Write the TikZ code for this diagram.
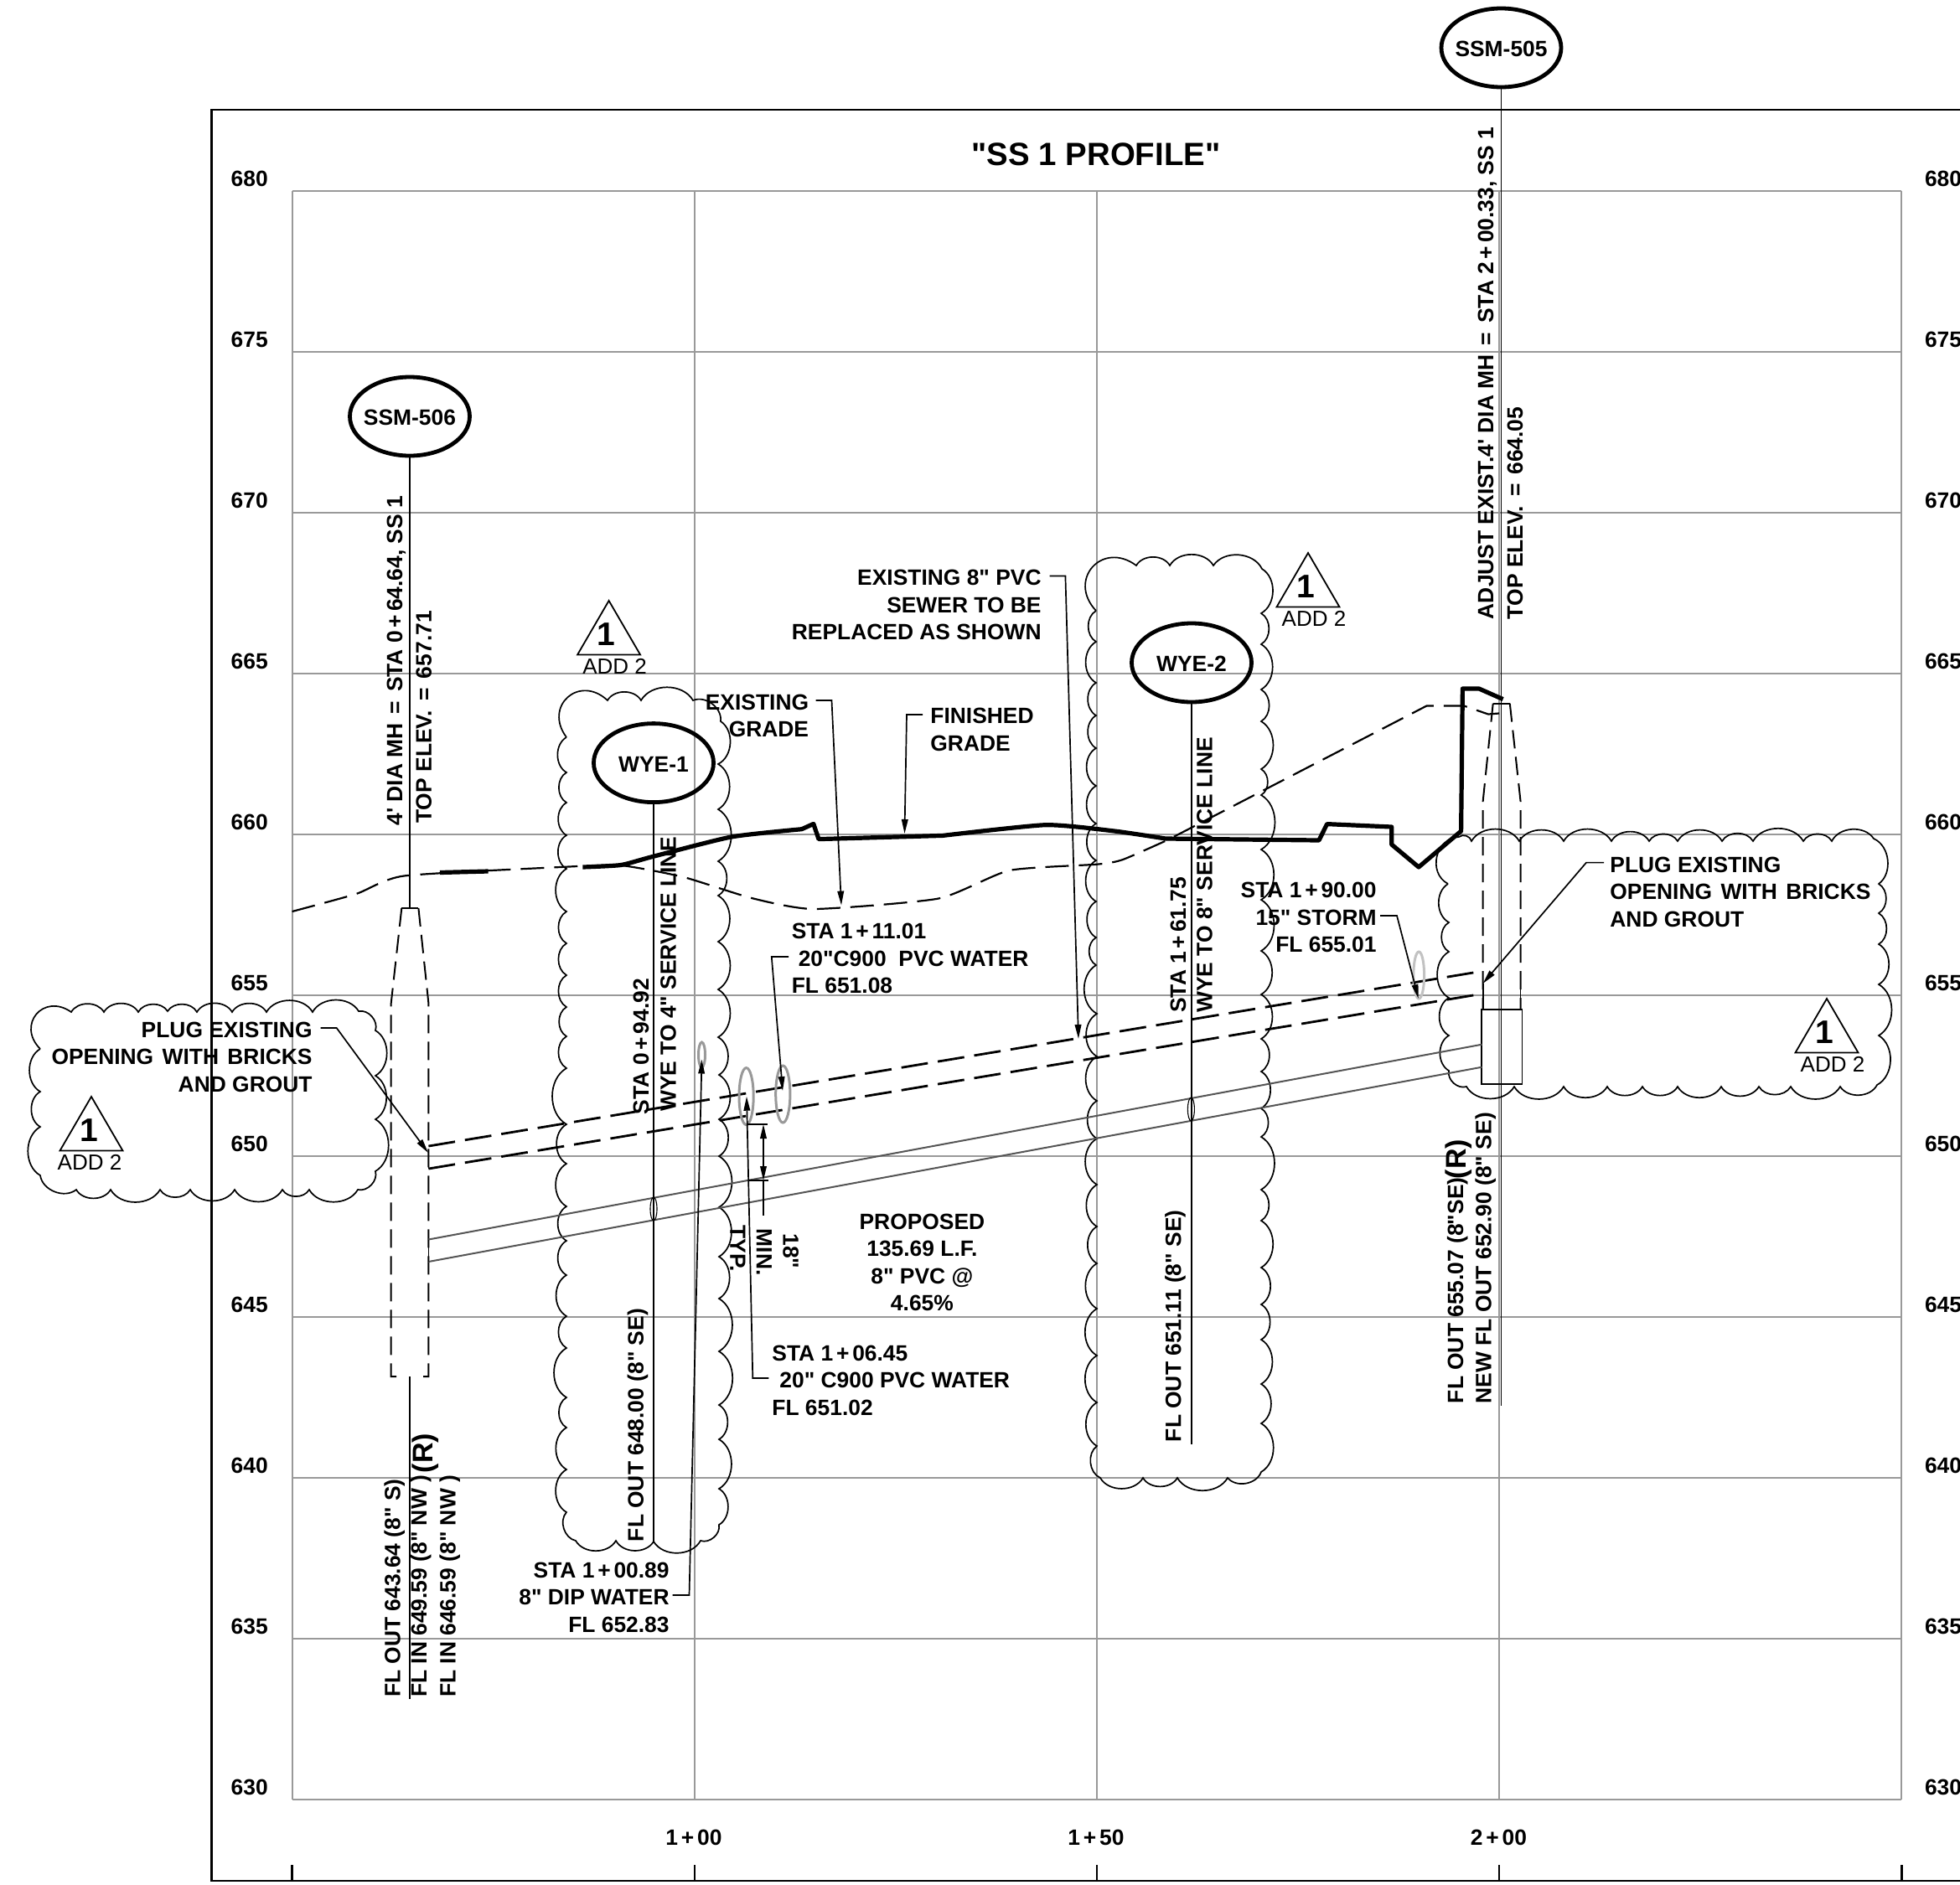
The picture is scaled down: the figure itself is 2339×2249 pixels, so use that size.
\documentclass[tikz,border=0pt]{standalone}
\usepackage{fontspec}
\usetikzlibrary{arrows.meta,shapes.geometric}
\newfontfamily\labfont{Liberation Sans}
\definecolor{gridc}{HTML}{999999}
\definecolor{pipec}{HTML}{555555}
\newcommand\pl{\kern1.9pt+\kern1.9pt}
\newcommand\eqk{\kern1.9pt=\kern1.9pt}
\tikzset{
 lab/.style={inner sep=0pt,yshift=-0.75pt,font=\labfont\bfseries\fontsize{13.2}{16.25}\selectfont},
 labr/.style={lab,align=right,anchor=east},
 labl/.style={lab,align=left,anchor=west},
 labc/.style={lab,align=center,anchor=center},
 up/.style={lab,rotate=90,anchor=west},
 down/.style={lab,rotate=-90,anchor=west},
 gridline/.style={draw=gridc,line width=1pt},
 frameline/.style={draw=black,line width=1.2pt},
 thinline/.style={draw=black,line width=0.9pt},
 leader/.style={draw=black,line width=0.85pt,-{Triangle[length=8.5pt,width=3.8pt]}},
 cloudline/.style={draw=black,line width=0.85pt},
 scal/.style={bend left=60},
 corner/.style={bend left=85,looseness=1.8},
 cornerb/.style={bend left=75,looseness=1.25},
 tag/.style={ellipse,draw=black,line width=2.4pt,minimum width=71.5pt,minimum height=47pt,inner sep=0pt},
 mhdash/.style={draw=black,line width=1pt,dash pattern=on 11pt off 5pt},
 pipedash/.style={draw=black,line width=1.4pt,dash pattern=on 16pt off 6pt},
 gradedash/.style={draw=black,line width=1.1pt,dash pattern=on 14pt off 6pt,line join=round},
 grade/.style={draw=black,line width=2.6pt,line join=round},
 pipe/.style={draw=pipec,line width=1pt},
 wgray/.style={ellipse,draw=gridc,line width=1.5pt,inner sep=0pt},
 pinch/.style={ellipse,draw=black,line width=0.55pt,inner sep=0pt,minimum width=4pt,minimum height=14pt},
 tri/.style={draw=black,line width=0.9pt,line join=miter},
}
\newcommand\addtri[4]{% name, apex x, apex y, ADD offset
 \draw[tri] (#2,#3) -- ++(-37.5,64.5) -- ++(75,0) -- cycle;
 \node[inner sep=0pt,font=\labfont\bfseries\fontsize{19.5}{20}\selectfont] (#1n) at (#2-3,#3+40) {1};
 \node[inner sep=0pt,font=\labfont\fontsize{13}{15}\selectfont] (#1a) at (#2+#4,#3+78) {ADD 2};
}
\begin{document}
\begin{tikzpicture}[x=0.5pt,y=-0.5pt]
\useasboundingbox (0,0) rectangle (2339,2249);
\fill[white] (0,0) rectangle (2339,2249);
\clip (0,0) rectangle (2339,2249);
% frame
\draw[frameline] (2345,131) -- (252.6,131) -- (252.6,2245) -- (2345,2245);
\foreach \x in {348.6,828.8,1309,1789.2,2269.4} {
 \draw[frameline] (\x,2226) -- (\x,2245);
 \draw[gridline] (\x,227.7) -- (\x,2147.7);
}
\foreach \i in {0,...,10} {
 \draw[gridline] (348.6,227.7+\i*192) -- (2269.4,227.7+\i*192);
}
\foreach \v [count=\i from 0] in {680,675,670,665,660,655,650,645,640,635,630} {
 \node[lab] (yl\v) at (297.7,211.8+\i*192) {\v};
 \node[lab] (yr\v) at (2319,211.8+\i*192) {\v};
}
\node[lab] (st100) at (828,2192) {1\pl00};
\node[lab] (st150) at (1308,2192) {1\pl50};
\node[lab] (st200) at (1788.5,2192) {2\pl00};
\node[inner sep=0pt,font=\labfont\bfseries\fontsize{19.2}{22}\selectfont] (title) at (1308,184.5) {"SS 1 PROFILE"};
% clouds
\draw[cloudline] (48,1252) to[corner] (85,1208) \foreach \x/\y in {124/1208,165/1208,200/1207,235/1208,277/1208,318/1208,373/1208,428/1207,448/1230,448/1284,448/1336,448/1398,427/1420,369/1420,337/1420,280/1420,227/1420,191/1420,132/1420,91/1420,48/1403,48/1345,48/1303,48/1252} { to[scal] (\x,\y) };
\draw[cloudline] (676,880) to[corner] (725,836) \foreach \x/\y in {765/836,827/836,860/861,857/912,857/966,857/1028,857/1069,857/1124,857/1181,857/1238,858/1283,858/1336,858/1380,858/1441,858/1500,858/1550,858/1613,858/1677,858/1718,858/1777,858/1820,836/1839,780/1840,735/1839,687/1839,676/1805,676/1754,676/1704,676/1668,676/1609,676/1571,676/1522,676/1481,676/1440,676/1389,676/1342,676/1275,676/1237,676/1202,676/1164,676/1126,676/1088,676/1037,676/997,676/958,676/922,676/880} { to[scal] (\x,\y) };
\draw[cloudline] (1308,729) to[corner] (1356,675) \foreach \x/\y in {1396/675,1448/675,1506/679,1505/732,1505/769,1505/823,1505/861,1505/918,1505/949,1505/1014,1505/1074,1505/1135,1505/1187,1505/1240,1505/1279,1505/1323,1505/1357,1505/1420,1505/1457,1505/1513,1505/1557,1505/1599,1505/1652,1505/1699,1505/1757,1465/1764,1405/1764,1364/1764,1313/1764,1309/1726,1309/1674,1309/1618,1309/1562,1309/1508,1309/1464,1309/1414,1309/1359,1309/1314,1309/1261,1309/1210,1308/1152,1308/1119,1308/1076,1308/1027,1308/983,1308/938,1308/893,1308/854,1308/815,1308/766,1308/729} { to[scal] (\x,\y) };
\draw[cloudline] (1728,1055) to[cornerb] (1741,999) \foreach \x/\y in {1756/1004,1813/1004,1866/1004,1923/1004,1968/1004,2002/1004,2055/1004,2092/1004,2152/1004,2186/1004,2236/1001,2242/1055,2242/1090,2242/1127,2242/1175,2242/1236,2240/1295,2196/1297,2137/1297,2099/1297,2054/1297,2002/1297,1960/1297,1918/1297,1866/1297,1807/1297,1750/1297,1729/1278,1729/1236,1729/1191,1729/1136,1729/1101,1728/1055} { to[scal] (\x,\y) };
% triangles
\addtri{ta}{109}{1309}{-2}
\addtri{tb}{726.6}{717}{7}
\addtri{tc}{1561}{660}{7}
\addtri{td}{2180}{1192}{7}
% tags
\node[tag] (ssm505) at (1791.5,57) {};
\node[lab] (ssm505t) at (ssm505) {SSM-505};
\node[tag] (ssm506) at (489,497) {};
\node[lab] (ssm506t) at (ssm506) {SSM-506};
\node[tag] (wye1) at (780,910.6) {};
\node[lab] (wye1t) at (wye1) {WYE-1};
\node[tag] (wye2) at (1422,791) {};
\node[lab] (wye2t) at (wye2) {WYE-2};
% manholes
\coordinate (mhb) at (489,1084);
\coordinate (mhc) at (489,1643);
\draw[thinline] (479.3,1084) -- (499.4,1084);
\draw[mhdash] (479.3,1084) -- (466.7,1197.5) -- (466.7,1643) -- (482,1643);
\draw[mhdash] (499.4,1084) -- (511.4,1197.5) -- (511.4,1643) -- (496,1643);
\draw[thinline] (1781.7,839.7) -- (1801.8,839.7);
\draw[mhdash] (1781.7,839.7) -- (1769.7,956) -- (1769.7,1205);
\draw[mhdash] (1801.8,839.7) -- (1814.5,956) -- (1814.5,1205);
\draw[thinline] (1767.7,1205) rectangle (1816.5,1293.7);
\draw[thinline] (1769.7,1174) -- (1769.7,1205);
\draw[thinline] (1814.5,1175) -- (1814.5,1205);
% pipes
\draw[pipedash] (511.4,1368) -- (1770,1159);
\draw[pipedash] (511.4,1395) -- (1770,1186);
\draw[thinline] (511.4,1376) -- (511.4,1395);
\draw[pipe] (511.4,1479.5) -- (1768.4,1246.7);
\draw[pipe] (511.4,1506) -- (1768.4,1273.7);
\draw[thinline] (511.4,1479.5) -- (511.4,1506);
% leaders from tags
\coordinate (w1e) at (780,1840);
\coordinate (w2e) at (1422,1724);
\coordinate (s5e) at (1791.5,1678);
\coordinate (s6e) at (489,2028);
\draw[thinline] (ssm506.south) -- (mhb);
\draw[thinline] (mhc) -- (s6e);
\draw[thinline] (ssm505.south) -- (s5e);
\draw[thinline] (wye1.south) -- (w1e);
\draw[thinline] (wye2.south) -- (w2e);
\node[pinch] (p1) at (780,1443) {};
\node[pinch] (p2) at (1421.4,1324) {};
% crossings
\node[wgray,minimum width=4pt,minimum height=15pt] (c1) at (837.5,1259) {};
\node[wgray,minimum width=8.6pt,minimum height=34pt] (c2) at (890.6,1308.6) {};
\node[wgray,minimum width=8.6pt,minimum height=34pt] (c3) at (934.3,1306) {};
\node[wgray,draw=gridc!60,minimum width=6.4pt,minimum height=28pt] (c4) at (1693.2,1164) {};
% grades
\draw[gradedash] plot[smooth,tension=0.35] coordinates {(348.6,1088) (425,1067) (482,1045.5) (669,1035) (741,1033) (816,1047) (897,1072) (971,1085) (1120,1072.5) (1204.5,1039) (1310,1031.6) (1340,1026) (1393.6,1002.5)} -- (1702.5,842.5) -- (1747,842.5) -- (1776,852.5) -- (1795,851);
\draw[grade] (525,1041.5) -- (582.6,1040);
\draw[grade] plot[smooth,tension=0.35] coordinates {(695.4,1035) (741,1032.5) (778,1022.7) (872.5,999) (956.7,989.7)} -- (970.8,983.4) -- (977,1001.6) -- (1125,997.4) -- plot[smooth,tension=0.35] coordinates {(1125,997.4) (1247.6,984.7) (1330,992) (1391,1001)} -- (1574,1003) -- (1583.6,983.6) -- (1660.7,987) -- (1660.7,1008) -- (1693,1035) -- (1743.6,992) -- (1745.4,822) -- (1765,822) -- (1793.6,834.6);
% callouts
\node[labr] (plugl) at (373,1260) {PLUG EXISTING\\OPENING\kern1.5pt{} WITH\kern1.5pt{} BRICKS\\AND GROUT};
\node[labl] (plugr) at (1921,1063) {PLUG EXISTING\\OPENING\kern1.5pt{} WITH\kern1.5pt{} BRICKS\\AND GROUT};
\node[labr] (ex8) at (1243,720.5) {EXISTING 8" PVC\\SEWER TO BE\\REPLACED AS SHOWN};
\node[labr] (exg) at (965.5,853) {EXISTING\\GRADE};
\node[labl] (fng) at (1110,869.5) {FINISHED\\GRADE};
\node[labl] (s111) at (944.4,1142.6) {STA 1\pl11.01\\\hspace*{4pt}20"C900\ \ PVC WATER\\FL 651.08};
\node[labl] (s106) at (921,1646) {STA 1\pl06.45\\\hspace*{4.5pt}20" C900 PVC WATER\\FL 651.02};
\node[labc] (prop) at (1100.4,1505.5) {PROPOSED\\135.69 L.F.\\8" PVC @\\4.65\%};
\node[labr] (s190) at (1643,1093.6) {STA 1\pl90.00\\15" STORM\\FL 655.01};
\node[labr] (s100) at (799,1905) {STA 1\pl00.89\\8" DIP WATER\\FL 652.83};
\coordinate (a1s) at (382.7,1227);\coordinate (a1t) at (511,1376);
\coordinate (a2s) at (1914,1029.6);\coordinate (a2t) at (1769.5,1174);
\coordinate (a3s) at (973.6,836);\coordinate (a3t) at (1004,1080.6);
\coordinate (a4s) at (1101,853);\coordinate (a4t) at (1079.5,995);
\coordinate (a5s) at (1252.5,687.5);\coordinate (a5t) at (1287,1240);
\coordinate (a6s) at (802.5,1904);\coordinate (a6t) at (837.5,1264.5);
\coordinate (a7s) at (941,1142);\coordinate (a7t) at (934,1302);
\coordinate (a8s) at (917.4,1645);\coordinate (a8t) at (891,1308.7);
\coordinate (a9s) at (1647,1093);\coordinate (a9t) at (1692.8,1192);
\draw[leader] (a1s) -- (401.7,1227) -- (a1t);
\draw[leader] (a2s) -- (1893,1029.6) -- (a2t);
\draw[leader] (a3s) -- (992.5,836) -- (a3t);
\draw[leader] (a4s) -- (1082,853) -- (a4t);
\draw[leader] (a5s) -- (1271.4,687.5) -- (a5t);
\draw[leader] (a6s) -- (822.5,1904) -- (a6t);
\draw[leader] (a7s) -- (920.8,1142) -- (a7t);
\draw[leader] (a8s) -- (898.3,1645) -- (a8t);
\draw[leader] (a9s) -- (1667,1093) -- (a9t);
% 18 inch dimension
\coordinate (d1) at (911,1342);\coordinate (d2) at (911,1409);\coordinate (d3) at (911,1451);
\draw[thinline] (892,1342) -- (916.4,1342);
\draw[thinline] (893,1409) -- (917,1409);
\draw[leader,{Triangle[length=8.5pt,width=3.8pt]}-{Triangle[length=8.5pt,width=3.8pt]}] (d1) -- (d2);
\draw[thinline] (d2) -- (d3);
% rotated labels
\node[up] (l1) at (473,984.5) {4' DIA MH \eqk{} STA 0\pl64.64, SS 1};
\node[up] (l2) at (505.7,981.6) {TOP ELEV. \eqk{} 657.71};
\node[up] (l3) at (1775,738) {ADJUST EXIST.4' DIA MH \eqk{} STA 2\pl00.33, SS 1};
\node[up] (l4) at (1808,738) {TOP ELEV. \eqk{} 664.05};
\node[up] (l5) at (765,1329) {STA 0\pl94.92};
\node[up] (l6) at (797.5,1325.7) {WYE TO 4" SERVICE LINE};
\node[up] (l7) at (761,1839) {FL OUT 648.00 (8" SE)};
\node[up] (l8) at (1406,1207.6) {STA 1\pl61.75};
\node[up] (l9) at (1437.5,1207.6) {WYE TO 8" SERVICE LINE};
\node[up] (l10) at (1402.6,1720) {FL OUT 651.11 (8" SE)};
\node[up] (l11) at (1739.4,1674) {FL OUT 655.07 (8\kern-0.6pt"SE)};
\node[up,font=\labfont\bfseries\fontsize{17}{20}\selectfont] (l12) at (1741,1406) {(R)};
\node[up] (l13) at (1772.7,1674) {NEW FL OUT 652.90 (8" SE)};
\node[up] (l14) at (470.7,2024.6) {FL OUT 643.64 (8" S)};
\node[up] (l15) at (502.3,2024.6) {FL IN 649.59 (8" NW )};
\node[up,font=\labfont\bfseries\fontsize{17}{20}\selectfont] (l16) at (508,1757) {(R)};
\node[up] (l17) at (536.7,2024.6) {FL IN 646.59 (8" NW )};
\node[down] (l18) at (880.4,1460.4) {TYP.};
\node[down] (l19) at (912,1465) {MIN.};
\node[down] (l20) at (943.7,1470.6) {18"};
\end{tikzpicture}
\end{document}
